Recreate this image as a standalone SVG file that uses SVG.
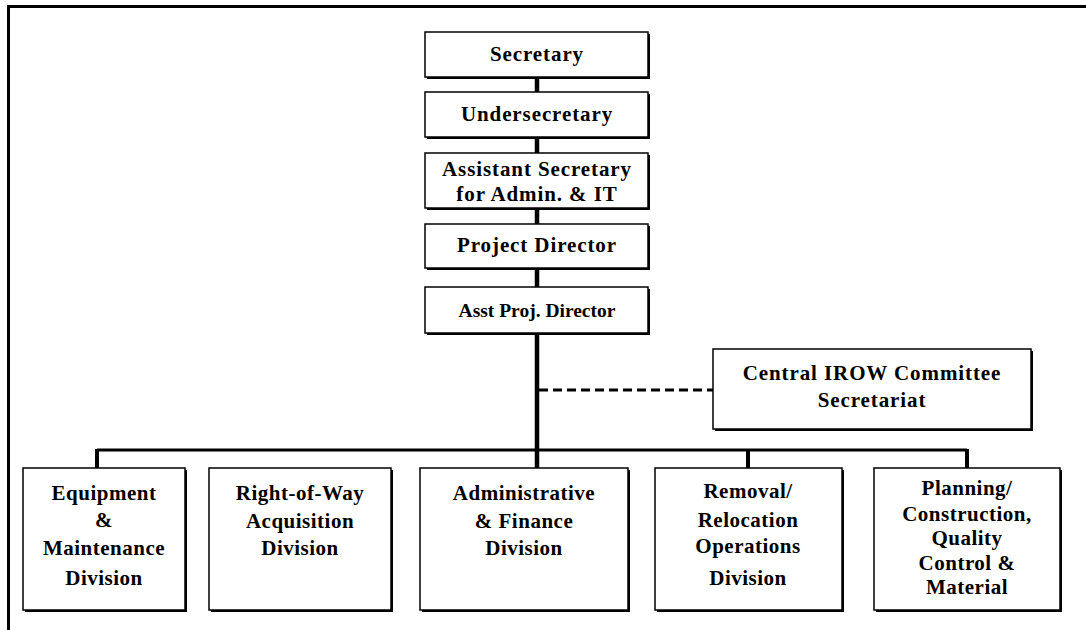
<svg xmlns="http://www.w3.org/2000/svg" width="1086" height="630" viewBox="0 0 1086 630">
  <style>
    .shadow { fill: #000; }
    .box { fill: #fff; stroke: #000; stroke-width: 1.5; }
    .lbl { font-family: "Liberation Serif", "Times New Roman", serif; font-weight: bold; font-size: 21px; letter-spacing: 0.9px; fill: #000; text-anchor: middle; }
    .small { font-size: 19.5px; letter-spacing: 0px; }
    .div { letter-spacing: 0.5px; }
    .line { stroke: #000; fill: none; }
  </style>
  <rect width="1086" height="630" fill="#fff"/>
  <!-- outer frame, open on right and bottom -->
  <path class="line" d="M8.5,630 V6.5 H1086" stroke-width="3"/>

  <!-- connectors -->
  <g id="connectors">
    <path class="line" d="M537,77 V468" stroke-width="4.5"/>
    <path class="line" d="M97,450 H967" stroke-width="3"/>
    <path class="line" d="M97,449 V468 M748,449 V468 M967,449 V468" stroke-width="4"/>
    <path class="line" d="M539,390 H713" stroke-width="3" stroke-dasharray="9 5"/>
  </g>

  <g id="secretary">
    <rect class="shadow" x="427" y="34" width="223" height="45"/>
    <rect class="box" x="425" y="32" width="223" height="45"/>
    <text class="lbl" x="537" y="61">Secretary</text>
  </g>
  <g id="undersecretary">
    <rect class="shadow" x="427" y="94" width="223" height="45"/>
    <rect class="box" x="425" y="92" width="223" height="45"/>
    <text class="lbl" x="537" y="121">Undersecretary</text>
  </g>
  <g id="asst-secretary">
    <rect class="shadow" x="427" y="155" width="223" height="55"/>
    <rect class="box" x="425" y="153" width="223" height="55"/>
    <text class="lbl" x="537" y="176">Assistant Secretary</text>
    <text class="lbl" x="537" y="201">for Admin. &amp; IT</text>
  </g>
  <g id="project-director">
    <rect class="shadow" x="427" y="226" width="223" height="44"/>
    <rect class="box" x="425" y="224" width="223" height="44"/>
    <text class="lbl" x="537" y="252">Project Director</text>
  </g>
  <g id="asst-project-director">
    <rect class="shadow" x="427" y="289" width="223" height="46"/>
    <rect class="box" x="425" y="287" width="223" height="46"/>
    <text class="lbl small" x="537" y="317">Asst Proj. Director</text>
  </g>
  <g id="irow-committee">
    <rect class="shadow" x="715" y="351" width="318" height="80"/>
    <rect class="box" x="713" y="349" width="318" height="80"/>
    <text class="lbl" x="872" y="380">Central IROW Committee</text>
    <text class="lbl" x="872" y="407">Secretariat</text>
  </g>

  <g id="equipment-division">
    <rect class="shadow" x="25" y="470" width="162" height="142"/>
    <rect class="box" x="23" y="468" width="162" height="142"/>
    <text class="lbl div" x="104" y="500">Equipment</text>
    <text class="lbl div" x="104" y="527">&amp;</text>
    <text class="lbl div" x="104" y="555">Maintenance</text>
    <text class="lbl div" x="104" y="585">Division</text>
  </g>
  <g id="row-division">
    <rect class="shadow" x="211" y="470" width="182" height="142"/>
    <rect class="box" x="209" y="468" width="182" height="142"/>
    <text class="lbl div" x="300" y="500">Right-of-Way</text>
    <text class="lbl div" x="300" y="528">Acquisition</text>
    <text class="lbl div" x="300" y="555">Division</text>
  </g>
  <g id="admin-finance-division">
    <rect class="shadow" x="422" y="470" width="208" height="142"/>
    <rect class="box" x="420" y="468" width="208" height="142"/>
    <text class="lbl div" x="524" y="500">Administrative</text>
    <text class="lbl div" x="524" y="528">&amp; Finance</text>
    <text class="lbl div" x="524" y="555">Division</text>
  </g>
  <g id="removal-division">
    <rect class="shadow" x="657" y="470" width="187" height="142"/>
    <rect class="box" x="655" y="468" width="187" height="142"/>
    <text class="lbl div" x="748" y="498">Removal/</text>
    <text class="lbl div" x="748" y="527">Relocation</text>
    <text class="lbl div" x="748" y="553">Operations</text>
    <text class="lbl div" x="748" y="585">Division</text>
  </g>
  <g id="planning-division">
    <rect class="shadow" x="876" y="470" width="186" height="142"/>
    <rect class="box" x="874" y="468" width="186" height="142"/>
    <text class="lbl div" x="967" y="495">Planning/</text>
    <text class="lbl div" x="967" y="521">Construction,</text>
    <text class="lbl div" x="967" y="545">Quality</text>
    <text class="lbl div" x="967" y="570">Control &amp;</text>
    <text class="lbl div" x="967" y="594">Material</text>
  </g>
</svg>
